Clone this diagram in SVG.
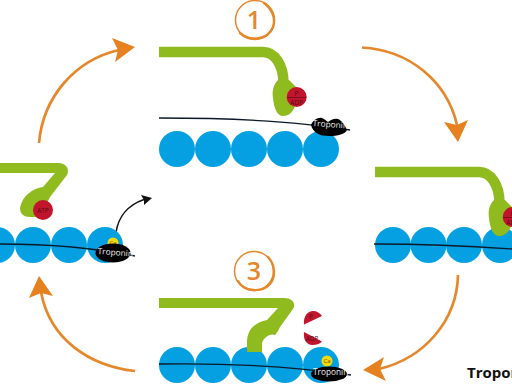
<svg xmlns="http://www.w3.org/2000/svg" width="512" height="384" viewBox="0 0 512 384">
<style>
.actin{fill:#05a0e2}
.myosin{fill:none;stroke:#8fbb1f;stroke-width:10.5;stroke-linejoin:round;stroke-linecap:butt}
.head{fill:#8fbb1f}
.cycle{fill:none;stroke:#e5872b;stroke-width:2.7}
.tip{fill:#e5821f}
.strand{fill:none;stroke:#0b1a2a;stroke-width:1.3}
.atp{fill:#c1152d}
.ca{fill:#f5d90a}
.trop{fill:#000}
.tt{font-family:"Open Sans","Liberation Sans",sans-serif;font-size:8.300px;fill:#eee}
.mt{font-family:"Open Sans","Liberation Sans",sans-serif;font-size:6.400px;fill:#560a14;text-anchor:middle}
.cat{font-family:"Open Sans","Liberation Sans",sans-serif;font-size:6px;fill:#6a4e00;text-anchor:middle}
.num{font-family:"Open Sans","Liberation Sans",sans-serif;font-size:25px;font-weight:600;fill:#e5872b;text-anchor:middle}
.ring{fill:none;stroke:#e5872b;stroke-width:1.500}
.ring2{fill:none;stroke:#e5872b;stroke-width:2.400;stroke-linecap:round}
</style>
<defs>
<!-- Myosin arm with the head cocked, carrying P and ADP -->
<g id="cocked-head">
<path class="myosin" d="M159 52H263C275 52 283 65 283.500 82"/>
<path class="head" d="M278 80C273 85 272 92 273 98C274 108 277 116 283 116C289 116 293 112 295 106L297 88L289 80Z"/>
<circle class="atp" cx="296.700" cy="97" r="10"/>
<path d="M287 97.500H306" stroke="#560a14" stroke-width=".6"/>
<text class="mt" x="296.500" y="95.500">P</text>
<text class="mt" x="296.500" y="104.500">ADP</text>
</g>
</defs>
<g id="cycle-arrows">
<path class="cycle" d="M39 143C43 97 75 60 119 50"/><path class="tip" d="M135 47L112 38L118 50L115 62Z"/>
<path class="cycle" d="M362 47.500C410 50 447 82 457 125"/><path class="tip" d="M458 142L444 122L457 125L468 120Z"/>
<path class="cycle" d="M458 275C457 320 425 358 379 369"/><path class="tip" d="M363 370L384 357L380 369L386 381Z"/>
<path class="cycle" d="M135 371C90 366 50 340 41 292"/><path class="tip" d="M39 276L29 298L41 293L53 296Z"/>
<path d="M116 233C118 217 128 205 144 199.500" fill="none" stroke="#111" stroke-width="1.500"/><path d="M152 198L141 195L144 200L144 205Z" fill="#111"/>
</g>
<g id="state-1">
<g id="ring-1"><circle class="ring" cx="255" cy="20" r="19.500"/><path class="ring2" d="M240 33C250 42 268 40 273 27C276 18 272 9 264 3"/><text class="num" x="254" y="29">1</text></g>
<use href="#cocked-head"/>
<g class="actin"><circle cx="177" cy="149" r="18"/><circle cx="213" cy="149" r="18"/><circle cx="249" cy="149" r="18"/><circle cx="285" cy="149" r="18"/><circle cx="321" cy="149" r="18"/></g>
<path class="strand" d="M159 118C220 118 290 120 350 130"/>
<path class="trop" d="M311 125C313 120 318 117 322 118C325 119 326 121 328 122C331 120 334 118 338 119C341 120 345 125 347 130C345 134 338 136 329 136C320 136 313 133 311 125Z"/>
<text class="tt" x="312.500" y="126" transform="rotate(4 312 126)">Troponin</text>
</g>
<g id="state-2">
<g class="actin"><circle cx="393" cy="245" r="18"/><circle cx="428.500" cy="245" r="18"/><circle cx="464" cy="245" r="18"/><circle cx="500" cy="245" r="18"/></g>
<path class="strand" d="M374 244C420 244 470 246 512 249"/>
<use href="#cocked-head" transform="translate(216 120)"/>
</g>
<g id="state-3">
<g id="ring-3"><circle class="ring" cx="254" cy="271" r="19.500"/><path class="ring2" d="M238 281C244 292 262 293 270 284C276 277 275 264 268 257"/><text class="num" x="254" y="280">3</text></g>
<g class="actin"><circle cx="177" cy="365" r="18"/><circle cx="213" cy="365" r="18"/><circle cx="249" cy="365" r="18"/><circle cx="285" cy="365" r="18"/><circle cx="321" cy="365" r="18"/></g>
<path class="strand" d="M159 364C220 363 290 366 351 375"/>
<path class="head" d="M159 298H284C293 298 296 304 293 309L280 327L278 331L275 335C270 333 264 337 262 343V352H247V343C247 331 253 323 267 320L278 308H159Z"/>
<path class="atp" d="M304 324.500C303 316 308 311 313 311C317 311 320 313 322 316Z"/>
<path class="atp" d="M304 332L322 341.500C320 344 316 345 312 345C307 345 303 340 304 332Z"/>
<text class="mt" x="311" y="319">P</text><text class="mt" x="312" y="341">ADP</text>
<circle class="ca" cx="327" cy="361" r="5.500"/><text class="cat" x="327" y="363">Ca</text>
<ellipse class="trop" cx="329" cy="374" rx="18" ry="7.500"/>
<text class="tt" x="313" y="375">Troponin</text>
</g>
<g id="state-4">
<g class="actin"><circle cx="-3" cy="245" r="18"/><circle cx="33" cy="245" r="18"/><circle cx="69" cy="245" r="18"/><circle cx="105" cy="245" r="18"/></g>
<path class="strand" d="M0 244C45 244 90 247 135 256"/>
<path class="head" d="M0 163H58C66 163 70 169 67 175L50 197L40 217H30C24 217 20 214 20 208C22 196 33 188 43 187L55 173H0Z"/>
<circle class="atp" cx="43" cy="210" r="10"/><text class="mt" x="43" y="212.500">ATP</text>
<circle class="ca" cx="113" cy="243" r="5.500"/><text class="cat" x="113" y="245">Ca</text>
<ellipse class="trop" cx="113" cy="253" rx="17.500" ry="9.500"/>
<text class="tt" x="97.500" y="254" transform="rotate(4 97 254)">Troponin</text>
</g>
<text id="legend" x="467" y="378" font-family="'Open Sans','Liberation Sans',sans-serif" font-size="15" font-weight="700" fill="#111">Troponin</text>
</svg>
